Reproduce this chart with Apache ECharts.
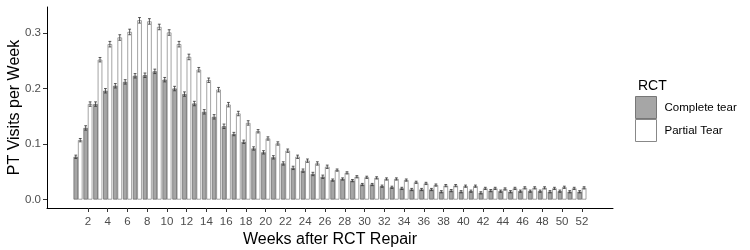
<!DOCTYPE html>
<html>
<head>
<meta charset="utf-8">
<script src="https://cdn.jsdelivr.net/npm/echarts@6/dist/echarts.min.js"></script>
<style>
  html, body { margin: 0; padding: 0; background: #fff; }
  #chart { width: 750px; height: 250px; }
</style>
</head>
<body>
<div id="chart"></div>
<script>
// weeks after repair
const weeks = [1, 2, 3, 4, 5, 6, 7, 8, 9, 10, 11, 12, 13, 14, 15, 16, 17, 18, 19, 20,
  21, 22, 23, 24, 25, 26, 27, 28, 29, 30, 31, 32, 33, 34, 35, 36, 37, 38, 39, 40,
  41, 42, 43, 44, 45, 46, 47, 48, 49, 50, 51, 52]

// mean PT visits per week
const completeTear = [0.077, 0.129, 0.172, 0.196, 0.205, 0.212, 0.223, 0.224, 0.231, 0.216,
  0.200, 0.190, 0.173, 0.158, 0.149, 0.132, 0.118, 0.104, 0.092, 0.085,
  0.076, 0.065, 0.057, 0.052, 0.046, 0.041, 0.035, 0.037, 0.034, 0.027,
  0.027, 0.024, 0.022, 0.020, 0.018, 0.018, 0.018, 0.014, 0.016, 0.014,
  0.015, 0.012, 0.016, 0.015, 0.014, 0.015, 0.015, 0.015, 0.014, 0.015, 0.014, 0.014]
const partialTear = [0.107, 0.172, 0.252, 0.280, 0.292, 0.302, 0.323, 0.321, 0.311, 0.301,
  0.280, 0.257, 0.234, 0.215, 0.198, 0.171, 0.155, 0.138, 0.123, 0.110,
  0.101, 0.088, 0.077, 0.070, 0.065, 0.059, 0.053, 0.048, 0.041, 0.040,
  0.039, 0.037, 0.037, 0.035, 0.031, 0.029, 0.026, 0.025, 0.025, 0.024,
  0.024, 0.020, 0.020, 0.019, 0.020, 0.021, 0.021, 0.021, 0.020, 0.022, 0.020, 0.021]

// standard errors (error bar half-length)
const completeErr = [0.003, 0.004, 0.004, 0.004, 0.004, 0.004, 0.004, 0.004, 0.004, 0.004,
  0.004, 0.004, 0.004, 0.004, 0.004, 0.004, 0.003, 0.003, 0.003, 0.003,
  0.003, 0.003, 0.003, 0.003, 0.003, 0.003, 0.002, 0.002, 0.002, 0.002,
  0.002, 0.002, 0.002, 0.002, 0.002, 0.002, 0.002, 0.002, 0.002, 0.002,
  0.002, 0.002, 0.002, 0.002, 0.002, 0.002, 0.002, 0.002, 0.002, 0.002, 0.002, 0.002]
const partialErr = [0.003, 0.004, 0.004, 0.005, 0.005, 0.005, 0.005, 0.005, 0.005, 0.005,
  0.005, 0.005, 0.004, 0.004, 0.004, 0.004, 0.004, 0.004, 0.003, 0.003,
  0.003, 0.003, 0.003, 0.003, 0.003, 0.003, 0.002, 0.002, 0.002, 0.002,
  0.002, 0.002, 0.002, 0.002, 0.002, 0.002, 0.002, 0.002, 0.002, 0.002,
  0.002, 0.002, 0.002, 0.002, 0.002, 0.002, 0.002, 0.002, 0.002, 0.002, 0.002, 0.002]

const xTicks = [2, 4, 6, 8, 10, 12, 14, 16, 18, 20, 22, 24, 26, 28, 30, 32, 34, 36, 38, 40,
  42, 44, 46, 48, 50, 52]
const yTicks = [0, 0.1, 0.2, 0.3]

const BAR_W = 4.45
const FONT = 'Liberation Sans, Arial, sans-serif'

const chart = echarts.init(document.getElementById('chart'))

// error bars drawn through the axes, shifted to the dodged bar
const errorBars = offset => (params, api) => {
  const x = api.value(0)
  const y = api.value(1)
  const e = api.value(2)
  const hi = api.coord([x, y + e])
  const lo = api.coord([x, y - e])
  const cx = hi[0] + offset
  const cap = 1.4
  const style = { stroke: '#333', lineWidth: 0.8 }
  return {
    type: 'group',
    children: [
      { type: 'line', shape: { x1: cx, y1: hi[1], x2: cx, y2: lo[1] }, style },
      { type: 'line', shape: { x1: cx - cap, y1: hi[1], x2: cx + cap, y2: hi[1] }, style },
      { type: 'line', shape: { x1: cx - cap, y1: lo[1], x2: cx + cap, y2: lo[1] }, style }
    ]
  }
}

const option = {
  animation: false,
  backgroundColor: '#fff',
  title: {
    text: 'RCT',
    left: 633,
    top: 74,
    textStyle: { fontFamily: FONT, fontSize: 14, fontWeight: 'normal', color: '#000' }
  },
  legend: {
    orient: 'vertical',
    left: 635,
    top: 96,
    padding: 0,
    itemGap: 0,
    itemWidth: 21,
    itemHeight: 22,
    icon: 'rect',
    data: [
      { name: 'Complete tear', itemStyle: { color: '#a6a6a6', borderColor: '#777', borderWidth: 1 } },
      { name: 'Partial Tear', itemStyle: { color: '#fff', borderColor: '#888', borderWidth: 1 } }
    ],
    textStyle: { fontFamily: FONT, fontSize: 11.5, color: '#000', padding: [0, 0, 0, 3] }
  },
  grid: { left: 47, right: 137, top: 7, bottom: 42, outerBoundsMode: 'none' },
  xAxis: {
    type: 'value',
    min: -2.14,
    max: 55.15,
    name: 'Weeks after RCT Repair',
    nameLocation: 'middle',
    nameGap: 24,
    nameMoveOverlap: false,
    nameTextStyle: { fontFamily: FONT, fontSize: 16, color: '#000' },
    splitLine: { show: false },
    axisLine: { onZero: false, lineStyle: { color: '#000', width: 1 } },
    axisTick: { length: 4, customValues: xTicks, lineStyle: { color: '#333' } },
    axisLabel: {
      customValues: xTicks,
      margin: 8,
      fontFamily: FONT,
      fontSize: 11.5,
      color: '#4d4d4d'
    }
  },
  yAxis: {
    type: 'value',
    min: -0.0153,
    max: 0.347,
    name: 'PT Visits per Week',
    nameLocation: 'middle',
    nameGap: 24,
    nameMoveOverlap: false,
    nameTextStyle: { fontFamily: FONT, fontSize: 16, color: '#000' },
    splitLine: { show: false },
    axisLine: { show: true, onZero: false, lineStyle: { color: '#000', width: 1 } },
    axisTick: { show: true, length: 4, customValues: yTicks, lineStyle: { color: '#333' } },
    axisLabel: {
      customValues: yTicks,
      margin: 6,
      fontFamily: FONT,
      fontSize: 11.5,
      color: '#4d4d4d',
      formatter: v => v.toFixed(1)
    }
  },
  series: [
    {
      name: 'Complete tear',
      type: 'bar',
      barWidth: BAR_W,
      barGap: '0%',
      itemStyle: { color: '#a6a6a6', borderColor: '#555', borderWidth: 0.6 },
      data: weeks.map((w, i) => [w, completeTear[i]])
    },
    {
      name: 'Partial Tear',
      type: 'bar',
      barWidth: BAR_W,
      barGap: '0%',
      itemStyle: { color: '#fff', borderColor: '#666', borderWidth: 0.6 },
      data: weeks.map((w, i) => [w, partialTear[i]])
    },
    {
      type: 'custom',
      renderItem: errorBars(-BAR_W / 2),
      z: 5,
      data: weeks.map((w, i) => [w, completeTear[i], completeErr[i]])
    },
    {
      type: 'custom',
      renderItem: errorBars(BAR_W / 2),
      z: 5,
      data: weeks.map((w, i) => [w, partialTear[i], partialErr[i]])
    }
  ]
}

chart.setOption(option)
</script>
</body>
</html>
